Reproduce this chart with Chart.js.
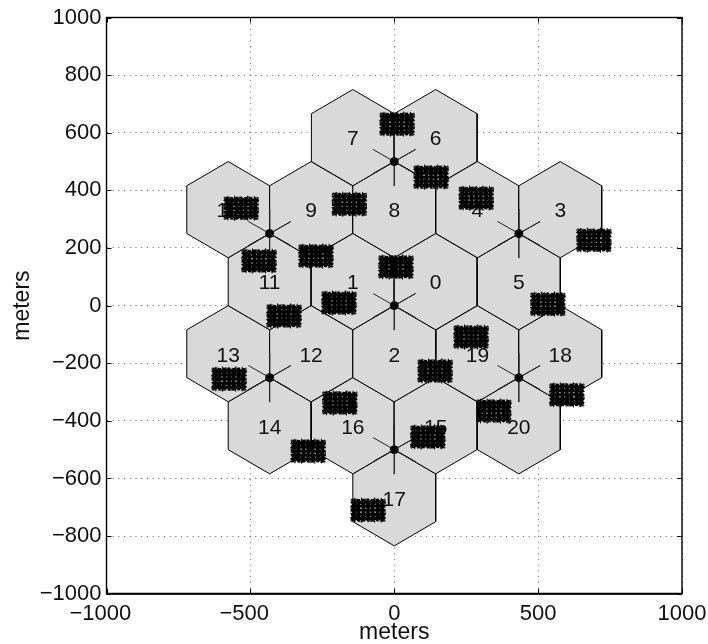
<!DOCTYPE html>
<html>
<head>
<meta charset="utf-8">
<script src="https://cdn.jsdelivr.net/npm/chart.js@4"></script>
<style>
  html, body { margin: 0; background: #fff; }
  canvas { display: block; }
</style>
</head>
<body>
<canvas id="cellChart" width="708" height="644"></canvas>
<script>
// cell numbers are the array index, centres in meters
const cellX = [144, -144, 0, 577, 289, 433, 144, -144, 0, -289, -577, -433, -289, -577, -433, 144, -144, 0, 577, 289, 433];
const cellY = [83, 83, -167, 333, 333, 83, 583, 583, 333, 333, 333, 83, -167, -167, -417, -417, -417, -667, -167, -167, -417];

// hexagon outline relative to a cell centre
const hexDx = [0, 144, 144, 0, -144, -144, 0];
const hexDy = [167, 83, -83, -167, -83, 83, 167];

// base stations
const siteX = [0, 433, 0, -433, -433, 0, 433];
const siteY = [0, 250, 500, 250, -250, -500, -250];
const spokeDx = [0, 74, 74, 0, -74, -74];
const spokeDy = [85, 42, -42, -85, -42, 42];

// user clusters, middle of each blob
const clusterX = [10, 128, 285, -156, -532, 694, -470, -272, 6, -192, 534, -383, 267, 142, -574, 600, -189, 346, 117, -299, -91];
const clusterY = [630, 446, 373, 352, 338, 227, 155, 172, 134, 9, 5, -36, -109, -227, -255, -310, -338, -366, -456, -505, -710];
const userDx = [-49, -33, -16, 0, 16, 33, 49];
const userDy = [-28, -14, 0, 14, 28];
const edgeDx = [-46, -23, 0, 23, 46, -46, -23, 0, 23, 46, -46, 46, -46, 46];
const edgeDy = [27, 28, 26, 28, 27, -27, -28, -26, -28, -27, 12, 12, -12, -12];
const boxDx = [-59, 59, 59, -59, -59];
const boxDy = [38, 38, -38, -38, 38];

const xTicks = [-1000, -500, 0, 500, 1000];
const yTicks = [-1000, -800, -600, -400, -200, 0, 200, 400, 600, 800, 1000];

const fontName = '"Liberation Sans", Arial, sans-serif';

function fmtTick(v, pad) {
  if (v < 0) return "\u2212" + Math.abs(v) + (pad ? "\u2007" : "");
  return String(v);
}

const datasets = [];

// hexagons go first, drawn at the back
cellX.forEach((cx, i) => {
  datasets.push({
    data: hexDx.map((d, k) => ({ x: cx + d, y: cellY[i] + hexDy[k] })),
    showLine: true, fill: "shape", backgroundColor: "#d9d9d9",
    borderColor: "#000", borderWidth: 1, pointRadius: 0, tension: 0, order: 100
  });
});

siteX.forEach((sx, i) => {
  const path = [];
  spokeDx.forEach((d, k) => {
    path.push({ x: sx, y: siteY[i] });
    path.push({ x: sx + d, y: siteY[i] + spokeDy[k] });
  });
  datasets.push({
    data: path, showLine: true, borderColor: "#222", borderWidth: 1,
    pointRadius: 0, tension: 0, order: 50
  });
});

datasets.push({
  data: siteX.map((x, i) => ({ x: x, y: siteY[i] })),
  backgroundColor: "#000", borderColor: "#000", pointRadius: 4, order: 40
});

clusterX.forEach((cx, i) => {
  const users = [];
  userDx.forEach(dx => userDy.forEach(dy => users.push({ x: cx + dx, y: clusterY[i] + dy })));
  // mesh of users, leaves the small white holes
  datasets.push({
    data: users, pointStyle: "cross", pointRadius: 3, borderColor: "#000",
    borderWidth: 2.9, order: 10
  });
  // spiky rim
  datasets.push({
    data: edgeDx.map((d, k) => ({ x: cx + d, y: clusterY[i] + edgeDy[k] })),
    pointStyle: "star", pointRadius: 4.5, borderColor: "#000",
    borderWidth: 1, order: 12
  });
  datasets.push({
    data: boxDx.map((d, k) => ({ x: cx + d, y: clusterY[i] + boxDy[k] })),
    showLine: true, borderColor: "#111", borderWidth: 1, borderDash: [6, 5],
    pointRadius: 0, tension: 0, order: 11
  });
});

// cell numbers sit on the hexagons but under the user blobs
const cellLabels = {
  id: "cellLabels",
  afterDatasetDraw(chart, args) {
    if (args.index !== 0) return;
    const c = chart.ctx;
    c.save();
    c.fillStyle = "#111";
    c.font = "21px " + fontName;
    c.textAlign = "center";
    c.textBaseline = "middle";
    cellX.forEach((x, i) => {
      c.fillText(String(i), chart.scales.x.getPixelForValue(x), chart.scales.y.getPixelForValue(cellY[i]) + 2);
    });
    c.restore();
  }
};

// box round the plot and inward ticks on all four sides
const plotBox = {
  id: "plotBox",
  afterDraw(chart) {
    const c = chart.ctx;
    const a = chart.chartArea;
    c.save();
    c.strokeStyle = "#000";
    c.lineWidth = 1.4;
    c.strokeRect(a.left, a.top, a.right - a.left, a.bottom - a.top);
    c.lineWidth = 2;
    c.beginPath();
    c.moveTo(a.left, a.bottom);
    c.lineTo(a.right, a.bottom);
    c.stroke();
    c.lineWidth = 1;
    c.beginPath();
    xTicks.forEach(v => {
      const p = Math.round(chart.scales.x.getPixelForValue(v)) + 0.5;
      c.moveTo(p, a.bottom); c.lineTo(p, a.bottom - 5);
      c.moveTo(p, a.top); c.lineTo(p, a.top + 5);
    });
    yTicks.forEach(v => {
      const p = Math.round(chart.scales.y.getPixelForValue(v)) + 0.5;
      c.moveTo(a.left, p); c.lineTo(a.left + 5, p);
      c.moveTo(a.right, p); c.lineTo(a.right - 5, p);
    });
    c.stroke();
    c.restore();
  }
};

new Chart(document.getElementById("cellChart"), {
  type: "scatter",
  data: { datasets: datasets },
  plugins: [cellLabels, plotBox],
  options: {
    responsive: false,
    animation: false,
    layout: { padding: { top: 17.5, right: 26, left: 0, bottom: 0 } },
    plugins: { legend: { display: false }, tooltip: { enabled: false } },
    scales: {
      x: {
        type: "linear", min: -1000, max: 1000,
        afterBuildTicks: s => { s.ticks = xTicks.map(v => ({ value: v })); },
        afterFit: s => { s.height = 50.3; s.paddingLeft = 0; s.paddingRight = 0; },
        grid: { color: "#666", lineWidth: 1, drawTicks: false },
        border: { display: false, dash: [1, 4.7] },
        ticks: {
          color: "#111", padding: 7, autoSkip: false, maxRotation: 0,
          font: { family: fontName, size: 22 },
          callback: v => fmtTick(v, true)
        },
        title: {
          display: true, text: "meters", color: "#111",
          font: { family: fontName, size: 23, lineHeight: 1 },
          padding: { top: 0, bottom: 0 }
        }
      },
      y: {
        type: "linear", min: -1000, max: 1000,
        afterBuildTicks: s => { s.ticks = yTicks.map(v => ({ value: v })); },
        afterFit: s => { s.width = 106.5; s.paddingTop = 0; s.paddingBottom = 0; },
        grid: { color: "#666", lineWidth: 1, drawTicks: false },
        border: { display: false, dash: [1, 4.7] },
        ticks: {
          color: "#111", padding: 5, autoSkip: false,
          font: { family: fontName, size: 22 },
          callback: v => fmtTick(v, false)
        },
        title: {
          display: true, text: "meters", color: "#111",
          font: { family: fontName, size: 23, lineHeight: 1 },
          padding: { top: 11, bottom: 0 }
        }
      }
    }
  }
});
</script>
</body>
</html>
